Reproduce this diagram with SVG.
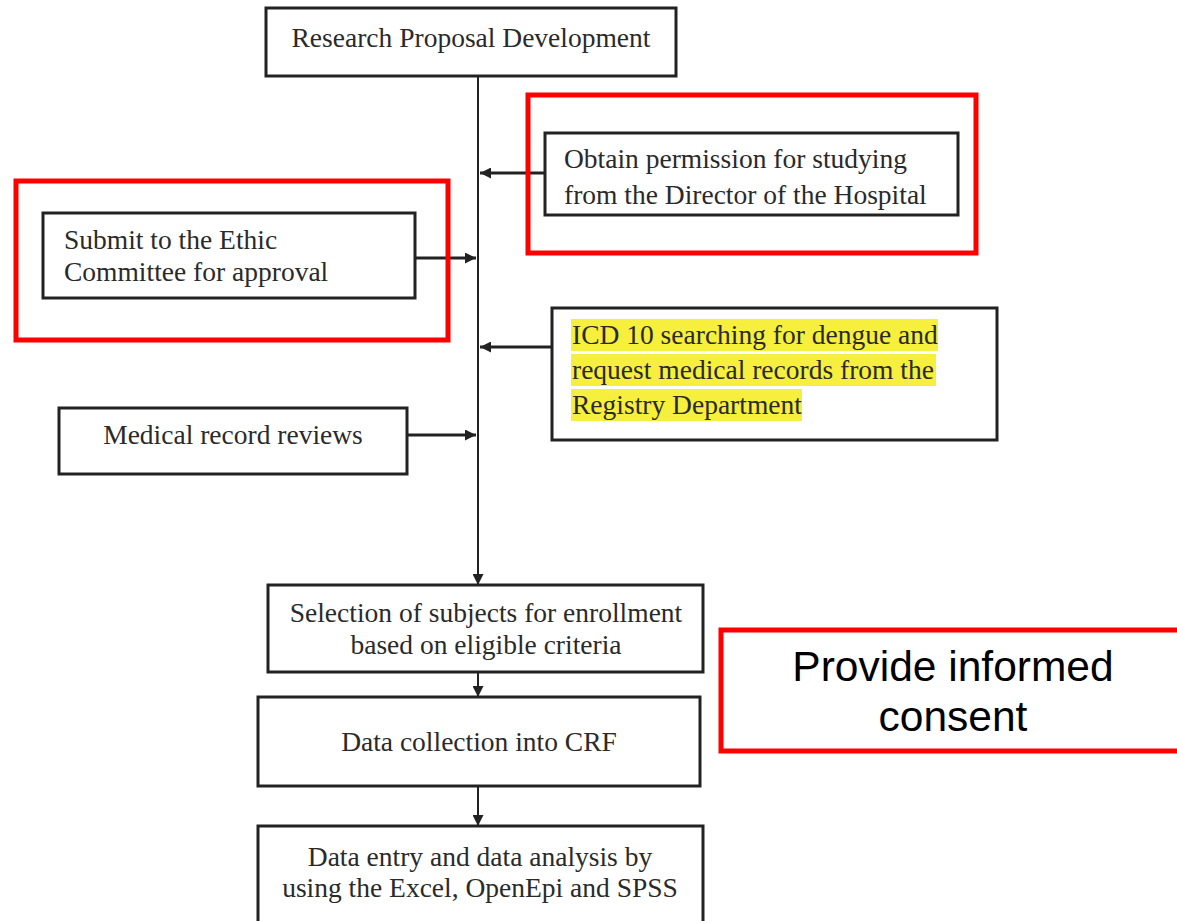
<svg xmlns="http://www.w3.org/2000/svg" width="1177" height="921" viewBox="0 0 1177 921">
<defs>
<style>
.box{fill:#fff;stroke:#222;stroke-width:3}
.red{fill:none;stroke:#ff0000;stroke-width:5}
.t{font-family:"Liberation Serif","Times New Roman",serif;font-size:27.5px;fill:#2a2a2a}
.c{text-anchor:middle}
.big{font-family:"Liberation Sans",Arial,sans-serif;font-size:42.5px;fill:#000;text-anchor:middle}
.ln{stroke:#222;stroke-width:2;fill:none}
.ar{stroke:#222;stroke-width:3;fill:none}
.hl{fill:#f7ef3e}
</style>
<marker id="ah" viewBox="0 0 10 10" refX="10" refY="5" markerWidth="11" markerHeight="11" markerUnits="userSpaceOnUse" orient="auto">
<path d="M0,0 L10,5 L0,10 z" fill="#222"/>
</marker>
</defs>
<rect width="1177" height="921" fill="#fff"/>
<g id="connectors">
<line class="ln" x1="478" y1="76" x2="478" y2="585" marker-end="url(#ah)"/>
<line class="ar" x1="545" y1="173" x2="480" y2="173" marker-end="url(#ah)"/>
<line class="ar" x1="415" y1="258" x2="476" y2="258" marker-end="url(#ah)"/>
<line class="ar" x1="552" y1="347" x2="480" y2="347" marker-end="url(#ah)"/>
<line class="ar" x1="407" y1="435" x2="476" y2="435" marker-end="url(#ah)"/>
<line class="ln" x1="478" y1="672" x2="478" y2="697" marker-end="url(#ah)"/>
<line class="ln" x1="478" y1="786" x2="478" y2="826" marker-end="url(#ah)"/>
</g>
<g id="n-research">
<rect class="box" x="266" y="8" width="410" height="68"/>
<text class="t c" x="471" y="47">Research Proposal Development</text>
</g>
<g id="n-permission">
<rect class="red" x="528" y="95" width="448" height="158"/>
<rect class="box" x="545" y="133" width="413" height="82"/>
<text class="t" x="564" y="168">Obtain permission for studying</text>
<text class="t" x="564" y="204">from the Director of the Hospital</text>
</g>
<g id="n-ethic">
<rect class="red" x="16" y="181" width="432" height="159"/>
<rect class="box" x="43" y="213" width="372" height="85"/>
<text class="t" x="64" y="249">Submit to the Ethic</text>
<text class="t" x="64" y="281">Committee for approval</text>
</g>
<g id="n-icd">
<rect class="box" x="552" y="308" width="445" height="132"/>
<rect class="hl" x="571" y="319" width="367" height="32"/>
<rect class="hl" x="571" y="354" width="365" height="32"/>
<rect class="hl" x="571" y="389" width="231" height="32"/>
<text class="t" x="572" y="344">ICD 10 searching for dengue and</text>
<text class="t" x="572" y="379">request medical records from the</text>
<text class="t" x="572" y="414">Registry Department</text>
</g>
<g id="n-review">
<rect class="box" x="59" y="408" width="348" height="66"/>
<text class="t c" x="233" y="444">Medical record reviews</text>
</g>
<g id="n-selection">
<rect class="box" x="268" y="585" width="435" height="87"/>
<text class="t c" x="486" y="622">Selection of subjects for enrollment</text>
<text class="t c" x="486" y="654">based on eligible criteria</text>
</g>
<g id="n-consent">
<rect class="red" x="721" y="630" width="460" height="121"/>
<text class="big" x="953" y="681">Provide informed</text>
<text class="big" x="953" y="731">consent</text>
</g>
<g id="n-collection">
<rect class="box" x="258" y="697" width="442" height="89"/>
<text class="t c" x="479" y="751">Data collection into CRF</text>
</g>
<g id="n-analysis">
<rect class="box" x="258" y="826" width="445" height="100"/>
<text class="t c" x="480" y="866">Data entry and data analysis by</text>
<text class="t c" x="480" y="897">using the Excel, OpenEpi and SPSS</text>
</g>
</svg>
